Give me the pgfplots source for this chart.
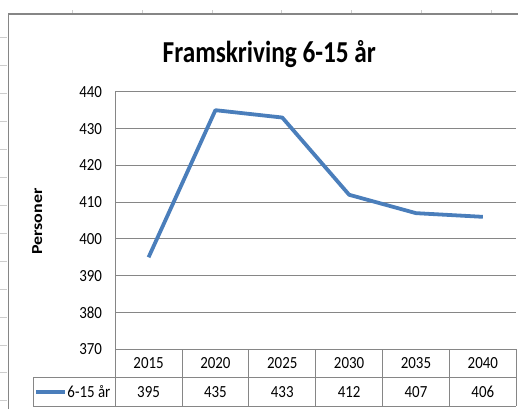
\documentclass[border=0pt]{standalone}
\usepackage{fontspec}
\setmainfont{Carlito}
\newfontfamily\cfont{Carlito}[FakeStretch=0.88]
\newfontfamily\tfont{Carlito}[FakeStretch=0.83]
\usepackage{pgfplots}
\pgfplotsset{compat=1.18}
\definecolor{xlblue}{RGB}{74,126,187}
\definecolor{gridgray}{RGB}{134,134,134}
\definecolor{sheetgray}{RGB}{205,205,205}
\newcommand{\tickfont}{\cfont\fontsize{17bp}{17bp}\selectfont}
\begin{document}
\begin{tikzpicture}
% ---- spreadsheet marks and chart border ----
\foreach \x in {-43,27,97,167,237,307,377}
  \draw[sheetgray, line width=0.8bp] (\x bp,336bp) -- (\x bp,340bp);
\foreach \k in {0,...,13}
  \draw[sheetgray, line width=0.8bp] (-115bp,{(312.3-28*\k)*1bp}) -- (-108bp,{(312.3-28*\k)*1bp});
\draw[gridgray, line width=1.5bp] (-107bp,-60bp) -- (-107bp,336bp) -- (404bp,336bp);

\begin{axis}[
  at={(0,0)}, anchor=south west,
  scale only axis, width=402bp, height=258bp,
  xmin=0, xmax=6, ymin=370, ymax=440,
  ytick={370,380,...,440}, xtick=\empty,
  ymajorgrids, grid style={draw=gridgray, line width=0.9bp},
  axis lines=left, axis line style={draw=gridgray, line width=0.9bp, -},
  major tick length=0pt,
  /pgf/number format/assume math mode=true,
  yticklabel style={font=\tickfont, inner sep=0pt, xshift=-13bp},
  clip=false,
]
\addplot[xlblue, line width=3.8bp, line join=round] coordinates {
  (0.5,395) (1.5,435) (2.5,433) (3.5,412) (4.5,407) (5.5,406)
};
\end{axis}

% ---- title and y label ----
\node[font=\tfont\fontsize{30.5bp}{30.5bp}\selectfont\bfseries, anchor=base] at (154.5bp,287.5bp) {Framskriving 6-15 år};
\node[rotate=90] at (-78bp,128bp) {\scalebox{1}[0.85]{\fontsize{18bp}{18bp}\selectfont\bfseries Personer}};

% ---- data table ----
\draw[gridgray, line width=0.9bp] (-82bp,-28bp) -- (402bp,-28bp);
\draw[gridgray, line width=0.9bp] (-82bp,-57bp) -- (402bp,-57bp);
\draw[gridgray, line width=0.9bp] (-82bp,-28bp) -- (-82bp,-57bp);
\foreach \i in {0,...,6}
  \draw[gridgray, line width=0.9bp] ({67*\i*1bp},0bp) -- ({67*\i*1bp},-57bp);
\foreach \yr/\v [count=\i from 0] in {2015/395,2020/435,2025/433,2030/412,2035/407,2040/406} {
  \node[font=\tickfont] at ({(33.5+67*\i)*1bp},-14bp) {\yr};
  \node[font=\tickfont] at ({(33.5+67*\i)*1bp},-42.5bp) {\v};
}
\draw[xlblue, line width=3.8bp] (-79bp,-42.5bp) -- (-50bp,-42.5bp);
\node[font=\tickfont, anchor=west, inner sep=0pt] at (-48bp,-42.5bp) {6-15 år};

\path[use as bounding box] (-115bp,-60bp) rectangle (404bp,350bp);
\end{tikzpicture}
\end{document}
